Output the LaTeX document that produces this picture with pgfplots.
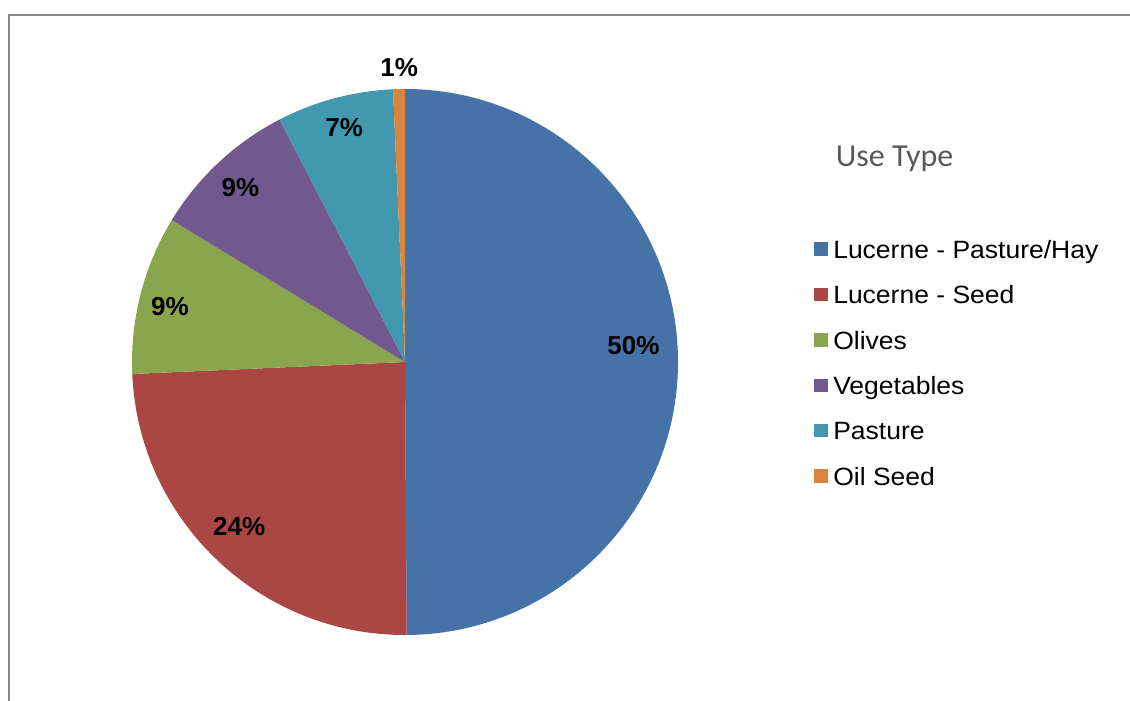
\documentclass[border=0pt]{standalone}
\usepackage{pgfplots}
\usepackage{pgfplotstable}
\pgfplotsset{compat=1.18}
\usepackage{fontspec}
\setmainfont{Liberation Sans}
\newfontfamily\titlefont{Carlito}
\newfontfamily\legfont{Liberation Sans}[FakeStretch=1.06]

\definecolor{c0}{HTML}{4572A7}
\definecolor{c1}{HTML}{AA4643}
\definecolor{c2}{HTML}{89A54E}
\definecolor{c3}{HTML}{71588F}
\definecolor{c4}{HTML}{4198AF}
\definecolor{c5}{HTML}{DB843D}
\definecolor{framegray}{HTML}{868686}
\definecolor{titlegray}{HTML}{595959}

\pgfplotstableread[col sep=comma]{
name,value,lx,ly
Lucerne - Pasture/Hay,49.9,633.5,346
Lucerne - Seed,24.4,239.2,527
Olives,9.4,170,307
Vegetables,8.7,240.5,187.5
Pasture,6.9,344.2,127.5
Oil Seed,0.7,399.2,67.5
}\piedata

\begin{document}
\begin{tikzpicture}
\def\cum{0}
\pgfplotsforeachungrouped \i in {0,...,5}{%
  \pgfplotstablegetelem{\i}{value}\of\piedata
  \let\v=\pgfplotsretval
  \pgfmathsetmacro\sa{90-3.6*\cum}%
  \pgfmathsetmacro\cum{\cum+\v}%
  \pgfmathsetmacro\ea{90-3.6*\cum}%
  \pgfmathtruncatemacro\r{round(\v)}%
  \expandafter\xdef\csname sa\i\endcsname{\sa}%
  \expandafter\xdef\csname ea\i\endcsname{\ea}%
  \expandafter\xdef\csname lab\i\endcsname{\r\%}%
  \pgfplotstablegetelem{\i}{name}\of\piedata
  \expandafter\xdef\csname nm\i\endcsname{\pgfplotsretval}%
  \pgfplotstablegetelem{\i}{lx}\of\piedata
  \expandafter\xdef\csname lx\i\endcsname{\pgfplotsretval}%
  \pgfplotstablegetelem{\i}{ly}\of\piedata
  \expandafter\xdef\csname ly\i\endcsname{\pgfplotsretval}%
}
\useasboundingbox (0,0) rectangle (847.5pt,525pt);
\begin{axis}[
  width=847.5pt, height=525pt, scale only axis,
  xmin=0, xmax=1130, ymin=0, ymax=700, y dir=reverse,
  hide axis, clip=false,
]
% chart frame
\draw[framegray, line width=1.5pt] (axis cs:9,15) rectangle (axis cs:1150,720);
% pie slices
\pgfplotsinvokeforeach{0,...,5}{
  \fill[c#1] (axis cs:405,362) -- ++(\csname sa#1\endcsname:204.75pt)
     arc[start angle=\csname sa#1\endcsname, end angle=\csname ea#1\endcsname, radius=204.75pt] -- cycle;
}
% data labels
\pgfplotsinvokeforeach{0,...,5}{
  \node[inner sep=0pt, font=\fontsize{19.5pt}{22pt}\selectfont\bfseries]
    at (axis cs:\csname lx#1\endcsname,\csname ly#1\endcsname) {\csname lab#1\endcsname};
}
% legend title
\node[anchor=base west, inner sep=0pt, text=titlegray, font=\titlefont\fontsize{24pt}{26pt}\selectfont]
  at (axis cs:835.5,166) {Use Type};
% legend entries
\pgfplotsinvokeforeach{0,...,5}{
  \fill[c#1] (axis cs:814,{242.3+45.4*#1}) rectangle (axis cs:828,{255.7+45.4*#1});
  \node[anchor=base west, inner sep=0pt, font=\legfont\fontsize{18.75pt}{22pt}\selectfont]
    at (axis cs:833,{258.3+45.4*#1}) {\csname nm#1\endcsname};
}
\end{axis}
\end{tikzpicture}
\end{document}
